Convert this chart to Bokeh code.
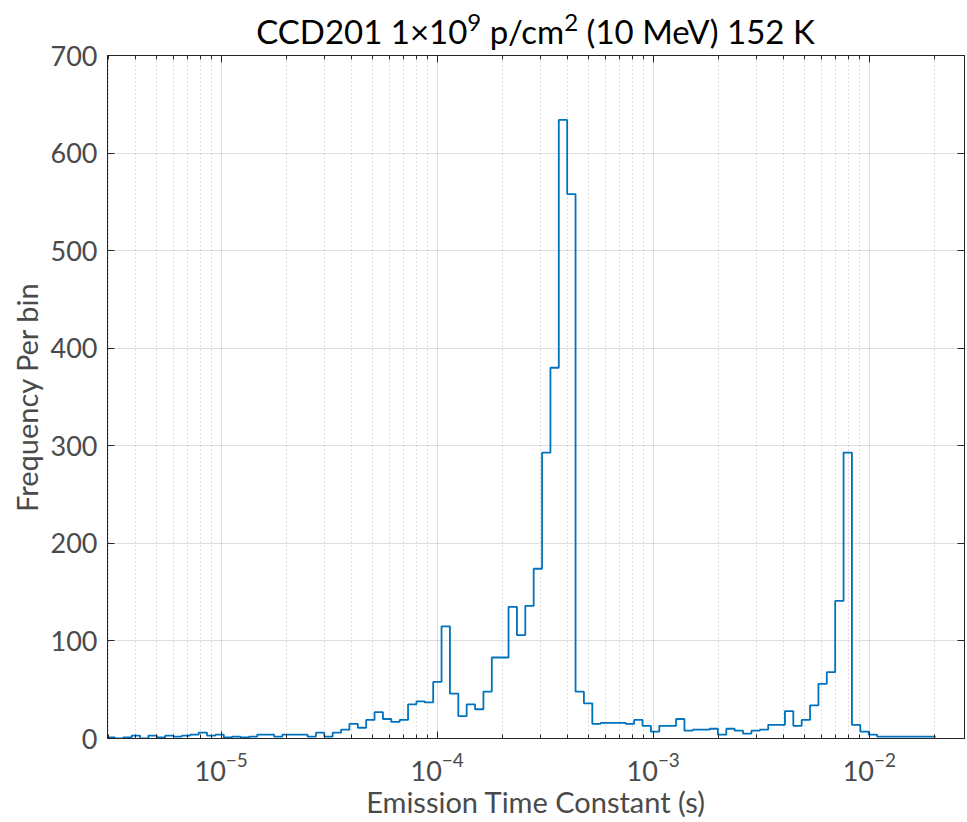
import numpy as np
from bokeh.plotting import figure
from bokeh.layouts import column
from bokeh.models import Range1d, FixedTicker, LogAxis, LinearAxis, CustomJSTickFormatter, LogTickFormatter, Div
from bokeh.embed import file_html
from bokeh.resources import INLINE

# ---------------- data ----------------
bin_lo = 2.95e-6      # first bin edge (s)
bin_hi = 0.0203       # last bin edge (s)
n_bins = 99
counts = [1, 0, 1, 3, 0, 3, 1, 3, 2, 3,
          4, 6, 3, 4, 1, 2, 1, 2, 4, 4,
          2, 4, 4, 4, 2, 6, 2, 6, 9, 15,
          11, 19, 27, 20, 17, 19, 35, 38, 37, 58,
          115, 46, 23, 35, 30, 48, 83, 83, 135, 106,
          136, 174, 293, 380, 634, 558, 48, 36, 15, 16,
          16, 16, 15, 19, 13, 7, 13, 13, 20, 8,
          9, 9, 10, 4, 10, 8, 5, 8, 9, 14,
          14, 28, 13, 19, 34, 56, 68, 141, 293, 14,
          7, 4, 2, 2, 2, 2, 2, 2, 2]

x_major = [1e-5, 1e-4, 1e-3, 1e-2]
x_minor = [m * d for d in [1e-6, 1e-5, 1e-4, 1e-3, 1e-2] for m in range(2, 10)]
y_ticks = [0, 100, 200, 300, 400, 500, 600, 700]

title_html = "CCD201 1\u00d710<sup>9</sup> p/cm<sup>2</sup> (10 MeV) 152 K"
x_label = "Emission Time Constant (s)"
y_label = "Frequency Per bin"

# ---------------- figure ----------------
edges = np.logspace(np.log10(bin_lo), np.log10(bin_hi), n_bins + 1)
step_y = counts + [counts[-1]]

FONT = "Lato"
AX = "#262626"
TXT = "#4a4a4a"
X_LO, X_HI = 2.98e-6, 0.0276

p = figure(width=967, height=787, x_axis_type="log",
           x_range=Range1d(X_LO, X_HI), y_range=Range1d(0, 700),
           output_backend="svg", toolbar_location=None,
           min_border_left=107, min_border_right=3,
           min_border_top=20, min_border_bottom=84,
           margin=(-15, 0, 0, 0))

p.step(x=list(edges), y=step_y, mode="after", line_color="#0072BD", line_width=1.8)

xt = FixedTicker(ticks=x_major, minor_ticks=x_minor)
yt = FixedTicker(ticks=y_ticks, minor_ticks=[])

xa = p.xaxis[0]
xa.ticker = xt
xa.formatter = LogTickFormatter()
ya = p.yaxis[0]
ya.ticker = yt

for ax in (xa, ya):
    ax.axis_line_color = AX
    ax.major_tick_line_color = AX
    ax.minor_tick_line_color = AX
    ax.major_tick_in = 7
    ax.major_tick_out = 0
    ax.minor_tick_in = 4
    ax.minor_tick_out = 0
    ax.major_label_text_font = FONT
    ax.major_label_text_color = TXT
    ax.major_label_text_font_size = "27px"
    ax.axis_label_text_font = FONT
    ax.axis_label_text_color = TXT
    ax.axis_label_text_font_size = "29px"
    ax.axis_label_text_font_style = "normal"

xa.axis_label = x_label
ya.axis_label = y_label
xa.major_label_standoff = 14
xa.axis_label_standoff = 0
ya.major_label_standoff = 10
ya.axis_label_standoff = 4

# box ticks on top and right (no labels)
blank = CustomJSTickFormatter(code="return '';")
blank2 = CustomJSTickFormatter(code="return '';")
top = LogAxis(ticker=xt, formatter=blank, major_label_standoff=0,
              major_label_text_font_size="4px",
              axis_line_color=AX, major_tick_line_color=AX, minor_tick_line_color=AX,
              major_tick_in=7, major_tick_out=0, minor_tick_in=4, minor_tick_out=0)
right = LinearAxis(ticker=yt, formatter=blank2, major_label_standoff=0,
                   major_label_text_font_size="4px",
                   axis_line_color=AX, major_tick_line_color=AX,
                   major_tick_in=7, major_tick_out=0, minor_tick_in=0, minor_tick_out=0)
p.add_layout(top, "above")
p.add_layout(right, "right")

p.xgrid.ticker = xt
p.ygrid.ticker = yt
p.xgrid.grid_line_color = AX
p.xgrid.grid_line_alpha = 0.15
p.xgrid.minor_grid_line_color = AX
p.xgrid.minor_grid_line_alpha = 0.3
p.xgrid.minor_grid_line_dash = "1 3"
p.ygrid.grid_line_color = AX
p.ygrid.grid_line_alpha = 0.15

p.outline_line_color = AX
p.background_fill_color = "white"
p.border_fill_alpha = 0

# title with real superscripts
sup_style = '<sup style="font-size:24px;line-height:0;vertical-align:13px">'
title = Div(text=(
    '<div style="width:967px;box-sizing:border-box;padding-left:104px;padding-top:15px;'
    'text-align:center;font-family:Lato;font-size:33px;line-height:33px;color:#000;'
    'white-space:nowrap">'
    + title_html.replace("<sup>", sup_style)
    + '</div>'), width=967, height=50, margin=(0, 0, 0, 0))

layout = column(title, p, spacing=0)
open("out.html", "w").write(file_html(layout, INLINE))
